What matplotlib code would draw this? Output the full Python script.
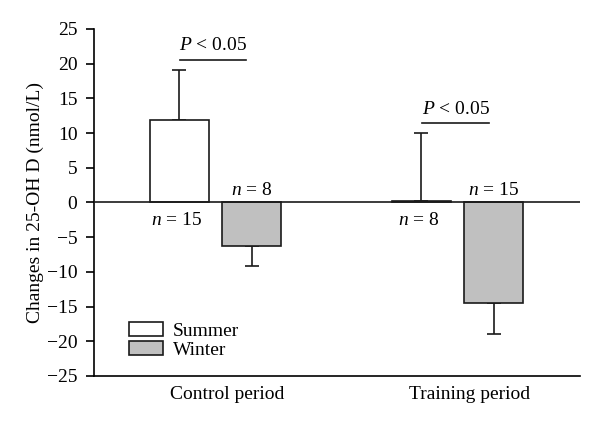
import matplotlib
matplotlib.use("Agg")
import matplotlib.pyplot as plt
from matplotlib.patches import Patch

plt.rcParams['font.family'] = ['Liberation Serif', 'DejaVu Serif']
plt.rcParams['mathtext.fontset'] = 'custom'
plt.rcParams['mathtext.rm'] = 'Liberation Serif'
plt.rcParams['mathtext.it'] = 'Liberation Serif:italic'

periods = ["Control period", "Training period"]
seasons = ["Summer", "Winter"]
summer_vals = [11.9, 0.15]
winter_vals = [-6.3, -14.5]
summer_err = [7.2, 9.9]   # upper errors
winter_err = [2.8, 4.4]   # lower errors
summer_n = ["15", "8"]
winter_n = ["8", "15"]
yticks = list(range(-25, 30, 5))

fig = plt.figure(figsize=(6, 4.25), dpi=100)
ax = fig.add_axes([0.1567, 0.1153, 0.81, 0.8165])

off = 0.149
w = 0.244
xs = [0, 1]
xsum = [x - off for x in xs]
xwin = [x + off for x in xs]
ec = '#1a1a1a'
lw = 1.2

ax.bar(xsum, summer_vals, width=w, color='white', edgecolor=ec, linewidth=lw, zorder=3)
ax.bar(xwin, winter_vals, width=w, color='#c0c0c0', edgecolor=ec, linewidth=lw, zorder=3)
ax.errorbar(xsum, summer_vals, yerr=[[0, 0], summer_err], fmt='none', ecolor=ec,
            elinewidth=lw, capsize=5, capthick=lw, zorder=2)
ax.errorbar(xwin, winter_vals, yerr=[winter_err, [0, 0]], fmt='none', ecolor=ec,
            elinewidth=lw, capsize=5, capthick=lw, zorder=2)

ax.axhline(0, color=ec, linewidth=lw, zorder=4)

fs = 14
# n labels
for i in range(2):
    ax.text(xsum[i] - 0.01, -1.3, r"$n$ = " + summer_n[i], ha='center', va='top', fontsize=fs)
    ax.text(xwin[i], 0.5, r"$n$ = " + winter_n[i], ha='center', va='bottom', fontsize=fs)

# significance
sig_y = [20.6, 11.4]
sig_x0 = [(180 - 215.5) / 242, (422 - 215.5) / 242]
sig_x1 = [(246 - 215.5) / 242, (489 - 215.5) / 242]
for i in range(2):
    ax.plot([sig_x0[i], sig_x1[i]], [sig_y[i], sig_y[i]], color=ec, linewidth=lw)
    ax.text((sig_x0[i] + sig_x1[i]) / 2, sig_y[i] + 0.8, r"$P$ < 0.05", ha='center', va='bottom', fontsize=fs)

ax.set_xlim(-0.502, 1.506)
ax.set_ylim(-25, 25)
ax.set_yticks(yticks)
ax.set_yticklabels([str(t) if t >= 0 else "\u2212" + str(-t) for t in yticks], fontsize=fs)
ax.set_xticks([x + 0.05 for x in xs])
ax.set_xticklabels(periods, fontsize=fs)
ax.tick_params(axis='x', length=0, pad=7)
ax.tick_params(axis='y', direction='out', length=6, width=lw, pad=6)
ax.spines['top'].set_visible(False)
ax.spines['right'].set_visible(False)
ax.spines['left'].set_linewidth(lw)
ax.spines['bottom'].set_linewidth(lw)
ax.set_ylabel("Changes in 25-OH D (nmol/L)", fontsize=fs, labelpad=2)

handles = [Patch(facecolor='white', edgecolor=ec, linewidth=lw, label=seasons[0]),
           Patch(facecolor='#c0c0c0', edgecolor=ec, linewidth=lw, label=seasons[1])]
ax.legend(handles=handles, loc='upper left', bbox_to_anchor=((129 - 94) / 486, (376 - 322) / 347),
          frameon=False, fontsize=fs, handlelength=1.75, handleheight=0.75, borderpad=0,
          borderaxespad=0, labelspacing=0.05, handletextpad=0.5)

fig.savefig("out.png", dpi=100)
